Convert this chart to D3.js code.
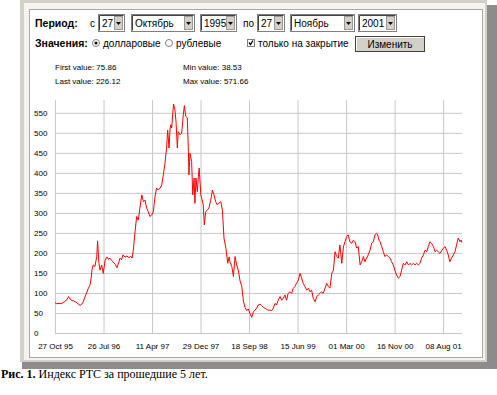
<!DOCTYPE html>
<html>
<head>
<meta charset="utf-8">
<script src="https://cdn.jsdelivr.net/npm/d3@7/dist/d3.min.js"></script>
<style>
  body { margin: 0; background: #fff; }
  text { font-family: "Liberation Sans", Arial, sans-serif; }
</style>
</head>
<body>
<div class="rtsChart"></div>
<script>
// trading day index (from 27 Oct 95) and index value
var tradingDays = [0,7,15,22,30,37,45,50,56,63,70,78,85,93,98,105,111,117,124,130,134,137,142,148,155,158,163,167,173,179,
  186,193,198,204,210,215,223,230,236,241,247,252,260,267,275,280,286,290,297,303,309,315,322,328,334,340,346,352,359,365,
  371,377,383,390,396,402,408,414,418,423,427,430,433,437,440,445,449,454,457,464,470,476,480,485,491,495,497,501,507,511,
  516,519,523,528,532,535,541,544,550,554,559,565,571,578,584,590,596,602,608,615,621,627,634,641,646,649,656,662,668,674,
  680,686,693,699,705,711,717,723,730,736,742,748,754,761,767,773,779,785,791,798,804,810,816,822,828,835,841,847,853,859,
  865,872,878,884,890,896,903,909,915,921,927,934,940,946,952,958,965,971,977,983,989,995,1002,1008,1014,1020,1027,1033,1039,1045,
  1051,1057,1064,1070,1076,1082,1088,1094,1101,1107,1113,1119,1125,1132,1138,1144,1150,1156,1162,1169,1175,1181,1187,1193,1197,1202,
  1206,1212,1218,1224,1230,1237,1243,1249,1255,1261,1267,1274,1280,1286,1292,1299,1305,1311,1317,1323,1330,1336,1342,1348,1354,1360,
  1367,1373,1379,1385,1391,1397,1404,1410,1416,1422,1428,1434,1441,1447,1453,1459,1465,1471,1478,1484,1490,1496,1503,1506,1510];

var rtsValues = [76,73,74,73,76,79,84,91,85,81,80,77,73,69,71,78,90,100,112,120,137,157,170,166,191,230,174,157,170,149,
  182,190,184,187,181,178,172,163,175,187,183,195,190,192,188,192,187,203,253,291,282,312,345,328,332,312,303,291,295,303,
  341,362,357,362,370,395,424,462,507,462,512,520,512,549,572,557,528,462,503,495,499,545,568,541,537,453,395,449,428,345,
  387,324,387,353,391,412,345,337,320,270,303,307,312,332,357,345,328,320,324,328,307,237,212,174,190,178,166,141,191,170,
  157,132,116,80,64,56,60,49,39,53,57,62,70,72,68,64,62,59,57,57,56,62,74,70,82,91,82,87,95,82,
  99,103,99,112,116,124,132,149,137,124,116,107,112,103,107,87,78,91,95,99,103,99,112,124,116,112,149,157,203,191,
  187,220,174,215,228,241,245,228,224,232,228,212,216,170,178,191,178,187,195,207,224,228,245,249,245,232,228,216,203,191,
  195,191,187,178,170,157,145,137,141,157,174,170,178,170,174,170,174,170,174,170,174,187,195,207,203,216,228,224,216,203,
  207,203,199,205,212,216,207,195,178,187,195,203,220,237,228,232,226];

var xTickDays = [0, 180, 360, 540, 720, 900, 1080, 1260, 1440];
var xTickLabels = ["27 Oct 95", "26 Jul 96", "11 Apr 97", "29 Dec 97", "18 Sep 98", "15 Jun 99", "01 Mar 00", "16 Nov 00", "08 Aug 01"];
var yTicks = [0, 50, 100, 150, 200, 250, 300, 350, 400, 450, 500, 550];

var statLabels = ["First value: 75.86", "Last value: 226.12", "Min value: 38.53", "Max value: 571.66"];

var selects = [
  { x: 98, w: 27, text: "27" },
  { x: 131, w: 64, text: "Октябрь" },
  { x: 200, w: 37, text: "1995" },
  { x: 257, w: 28, text: "27" },
  { x: 290, w: 65, text: "Ноябрь" },
  { x: 358, w: 39, text: "2001" }
];

var width = 497, height = 395,
    plot = { left: 55, right: 462, top: 100, bottom: 333 },
    gridColor = "#c8c8c8";

var svg = d3.select(".rtsChart").append("svg")
    .attr("width", width)
    .attr("height", height);

// frame with shadow
svg.append("rect").attr("x", 22).attr("y", 5).attr("width", 475).attr("height", 364).attr("fill", "#8c8c8c");
svg.append("rect").attr("x", 20).attr("y", 0).attr("width", 467).attr("height", 362).attr("fill", "#d4d0c8");
svg.append("rect").attr("x", 24).attr("y", 3).attr("width", 461).attr("height", 357).attr("fill", "#f4f3f0");
svg.append("rect").attr("x", 29.5).attr("y", 9.5).attr("width", 453).attr("height", 348)
    .attr("fill", "#fff").attr("stroke", "#a9a9a9");

// form controls
var form = svg.append("g").attr("class", "form");

form.append("text").text("Период:").attr("x", 35).attr("y", 27)
    .style("font-weight", "bold").style("font-size", "10.5px");
form.append("text").text("с").attr("x", 90).attr("y", 27).style("font-size", "10px");
form.append("text").text("по").attr("x", 243).attr("y", 27).style("font-size", "10px");

var sel = form.selectAll(".select")
    .data(selects)
    .enter().append("g")
    .attr("class", "select")
    .attr("transform", function(d) { return "translate(" + d.x + ",14)"; });

sel.append("rect").attr("x", 0.5).attr("y", 0.5)
    .attr("width", function(d) { return d.w - 1; }).attr("height", 17)
    .attr("fill", "#fff").attr("stroke", "#808080");
sel.append("path")
    .attr("d", function(d) { return "M1.5," + 16.5 + " L1.5,1.5 L" + (d.w - 1.5) + ",1.5"; })
    .attr("fill", "none").attr("stroke", "#404040");
sel.append("rect")
    .attr("x", function(d) { return d.w - 10.5; }).attr("y", 2.5)
    .attr("width", 8).attr("height", 13)
    .attr("fill", "#d4d0c8").attr("stroke", "#9a9a9a");
sel.append("path")
    .attr("d", function(d) { var cx = d.w - 6.5; return "M" + (cx - 2.5) + ",8 L" + (cx + 2.5) + ",8 L" + cx + ",11 Z"; })
    .attr("fill", "#000");
sel.append("text").text(function(d) { return d.text; })
    .attr("x", 4).attr("y", 13).style("font-size", "10px");

form.append("text").text("Значения:").attr("x", 35).attr("y", 47)
    .style("font-weight", "bold").style("font-size", "10.5px");

form.append("circle").attr("cx", 96).attr("cy", 43).attr("r", 3.5).attr("fill", "#fff").attr("stroke", "#808080");
form.append("circle").attr("cx", 96).attr("cy", 43).attr("r", 1.5).attr("fill", "#000");
form.append("text").text("долларовые").attr("x", 103).attr("y", 47).style("font-size", "10px");
form.append("circle").attr("cx", 169).attr("cy", 43).attr("r", 3.5).attr("fill", "#fff").attr("stroke", "#808080");
form.append("text").text("рублевые").attr("x", 176).attr("y", 47).style("font-size", "10px");

form.append("rect").attr("x", 247.5).attr("y", 39.5).attr("width", 7).attr("height", 7)
    .attr("fill", "#fff").attr("stroke", "#808080");
form.append("path").attr("d", "M249,42.5 L250.5,44.5 L253,40.5").attr("fill", "none")
    .attr("stroke", "#000").attr("stroke-width", 1.3);
form.append("text").text("только на закрытие").attr("x", 258).attr("y", 47).style("font-size", "10px");

form.append("rect").attr("x", 355.5).attr("y", 36.5).attr("width", 69).attr("height", 15)
    .attr("fill", "#d4d0c8").attr("stroke", "#404040");
form.append("path").attr("d", "M356.5,50.5 L356.5,37.5 L423.5,37.5").attr("fill", "none").attr("stroke", "#fff");
form.append("text").text("Изменить").attr("x", 390).attr("y", 48)
    .attr("text-anchor", "middle").style("font-size", "10px");

// stats
svg.selectAll(".stat")
    .data(statLabels)
    .enter().append("text")
    .attr("class", "stat")
    .text(function(d) { return d; })
    .attr("x", function(d, i) { return i < 2 ? 55 : 183; })
    .attr("y", function(d, i) { return i % 2 === 0 ? 70 : 84; })
    .style("font-size", "8px");

// chart
var x = d3.scaleLinear().domain([0, 1510]).range([plot.left, plot.right]);
var y = d3.scaleLinear().domain([0, 582]).range([plot.bottom, plot.top]);

var gy = svg.append("g")
    .attr("transform", "translate(" + plot.left + ",0)")
    .call(d3.axisLeft(y).tickValues(yTicks).tickSize(-(plot.right - plot.left)));
gy.select(".domain").remove();
gy.selectAll("line").attr("stroke", gridColor);
gy.selectAll("text").attr("x", -21).attr("text-anchor", "start").attr("fill", "#000");
gy.attr("font-size", 8).attr("font-family", null);

var gx = svg.append("g")
    .attr("transform", "translate(0," + plot.bottom + ")")
    .call(d3.axisBottom(x).tickValues(xTickDays)
      .tickFormat(function(d, i) { return xTickLabels[i]; })
      .tickSize(-(plot.bottom - plot.top)).tickPadding(10));
gx.select(".domain").remove();
gx.selectAll("line").attr("stroke", gridColor);
gx.selectAll("text").attr("fill", "#000");
gx.attr("font-size", 8).attr("font-family", null);

var points = tradingDays.map(function(d, i) { return { day: d, value: rtsValues[i] }; });

svg.append("path")
    .datum(points)
    .attr("fill", "none")
    .attr("stroke", "#f00")
    .attr("stroke-width", 1)
    .attr("stroke-linejoin", "round")
    .attr("d", d3.line()
      .x(function(d) { return x(d.day); })
      .y(function(d) { return y(d.value); }));

// caption
var caption = svg.append("text").attr("x", 1).attr("y", 378)
    .style("font-family", "'Liberation Serif', 'Times New Roman', serif").style("font-size", "12px");
caption.append("tspan").text("Рис. 1.").style("font-weight", "bold");
caption.append("tspan").text(" Индекс РТС за прошедшие 5 лет.");
</script>
</body>
</html>
